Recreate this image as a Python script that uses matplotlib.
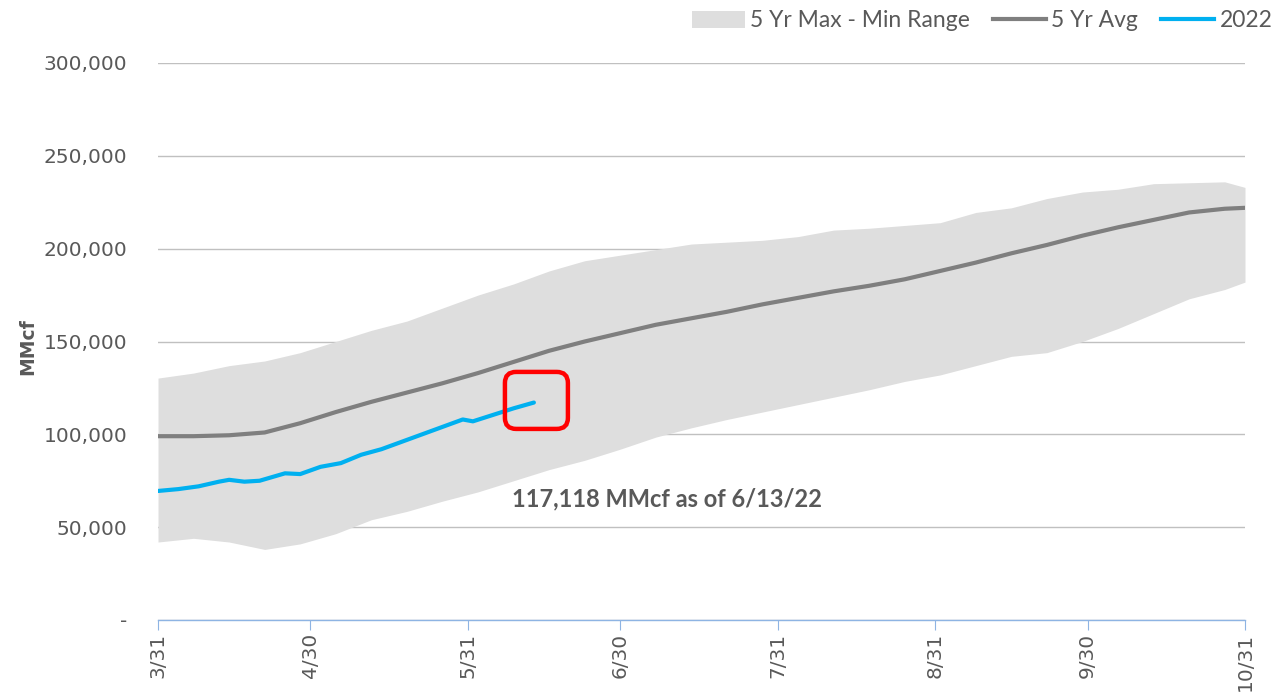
import matplotlib
matplotlib.use("Agg")
import matplotlib.pyplot as plt
import matplotlib.dates as mdates
from matplotlib.patches import FancyBboxPatch, Patch
from matplotlib.lines import Line2D
import numpy as np
import pandas as pd

# ---- data (values in MMcf; day offsets from 3/31/2022) ----
band_days = [0, 7, 14, 21, 28, 35, 42, 49, 56, 63, 70, 77, 84, 91, 98, 105,
             112, 119, 126, 133, 140, 147, 154, 161, 168, 175, 182, 189, 196,
             203, 210, 214]
band_max = [130300, 133000, 137000, 139500, 144000, 150000, 156000, 161000,
            168000, 175000, 181000, 188000, 193500, 196500, 199500, 202500,
            203500, 204500, 206500, 210000, 211000, 212500, 214000, 219500,
            222000, 227000, 230500, 232000, 235000, 235500, 236000, 233000]
band_min = [42000, 44000, 42000, 38000, 41000, 46500, 54000, 58500, 64000,
            69000, 75000, 81000, 86000, 92000, 98500, 103500, 108000, 112000,
            116000, 120000, 124000, 128500, 132000, 137000, 142000, 144000,
            150000, 157000, 165000, 173000, 178000, 182000]
avg_5yr = [99000, 99000, 99500, 101000, 106000, 112000, 117500, 122500,
           127500, 133000, 139000, 145000, 150000, 154500, 159000, 162500,
           166000, 170000, 173500, 177000, 180000, 183500, 188000, 192500,
           197500, 202000, 207000, 211500, 215500, 219500, 221500, 222000]

days_2022 = [0, 4, 8, 12, 14, 17, 20, 25, 28, 32, 36, 40, 44, 48, 52, 56,
             60, 62, 66, 70, 74]
vals_2022 = [69500, 70500, 72000, 74500, 75500, 74500, 75000, 79000, 78600,
             82500, 84500, 89000, 92000, 96000, 100000, 104000, 108000,
             107000, 110500, 114000, 117118]

tick_labels = ["3/31", "4/30", "5/31", "6/30", "7/31", "8/31", "9/30", "10/31"]
tick_dates = ["2022-03-31", "2022-04-30", "2022-05-31", "2022-06-30",
              "2022-07-31", "2022-08-31", "2022-09-30", "2022-10-31"]
y_ticks = [0, 50000, 100000, 150000, 200000, 250000, 300000]
annotation_text = "117,118 MMcf as of 6/13/22"

# ---- build dates ----
start = pd.Timestamp("2022-03-31")
band_dates = [start + pd.Timedelta(days=d) for d in band_days]
dates_2022 = [start + pd.Timedelta(days=d) for d in days_2022]
xt = [pd.Timestamp(t) for t in tick_dates]

GRAY_TXT = "#595959"
fig = plt.figure(figsize=(12.76, 6.93), dpi=100)
ax = fig.add_axes([158 / 1276, 73 / 693, 1087 / 1276, 557 / 693])

ax.fill_between(band_dates, band_min, band_max, color="#DEDEDE", lw=0, zorder=2)
ax.plot(band_dates, avg_5yr, color="#7F7F7F", lw=3, zorder=3,
        solid_capstyle="round")
ax.plot(dates_2022, vals_2022, color="#00B0F0", lw=3, zorder=4,
        solid_capstyle="round")

ax.set_xlim(xt[0], xt[-1])
ax.set_ylim(0, 300000)

ax.set_yticks(y_ticks)
ax.set_yticklabels(["-" if v == 0 else f"{v:,}" for v in y_ticks])
ax.yaxis.grid(True, color="#C0C0C0", lw=1, zorder=1)
ax.set_axisbelow(True)
ax.tick_params(axis="y", length=0, pad=22, labelsize=14.5, labelcolor=GRAY_TXT)

ax.set_xticks(xt)
ax.set_xticklabels(tick_labels, rotation=90)
ax.tick_params(axis="x", direction="out", length=7, color="#8EB4E3",
               labelsize=14.5, labelcolor=GRAY_TXT, pad=2)

for s in ["top", "right", "left"]:
    ax.spines[s].set_visible(False)
ax.spines["bottom"].set_color("#8EB4E3")
ax.spines["bottom"].set_linewidth(1)

ax.set_ylabel("MMcf", fontsize=13.5, fontweight="bold", color=GRAY_TXT)
ax.yaxis.set_label_coords(-0.111, 0.49)

# red rounded box around last 2022 point
last_x = mdates.date2num(dates_2022[-1])
last_y = vals_2022[-1]
bw, bh = 12.4, 30700
bx0 = last_x - 5.7
by0 = last_y - 14200
box = FancyBboxPatch((bx0, by0), bw, bh,
                     boxstyle="round,pad=0,rounding_size=2.2",
                     mutation_aspect=2693, fill=False, ec="#FF0000", lw=3.2,
                     zorder=6, transform=ax.transData)
ax.add_patch(box)

# annotation
ax.text(start + pd.Timedelta(days=100.2), 65200, annotation_text,
        ha="center", va="center", fontsize=17, fontweight="bold",
        color=GRAY_TXT, family="Lato", zorder=7)

# legend
handles = [Patch(facecolor="#DEDEDE", edgecolor="none"),
           Line2D([0], [0], color="#7F7F7F", lw=3),
           Line2D([0], [0], color="#00B0F0", lw=3)]
labels = ["5 Yr Max - Min Range", "5 Yr Avg", "2022"]
fig.legend(handles, labels, loc="upper right", bbox_to_anchor=(1.0, 0.99),
           ncol=3, frameon=False, handlelength=2.3, handleheight=0.75,
           handletextpad=0.25, columnspacing=1.0, borderpad=0.15,
           borderaxespad=0.0, prop={"family": "Lato", "size": 16.5},
           labelcolor=GRAY_TXT)

fig.savefig("out.png", dpi=100)
